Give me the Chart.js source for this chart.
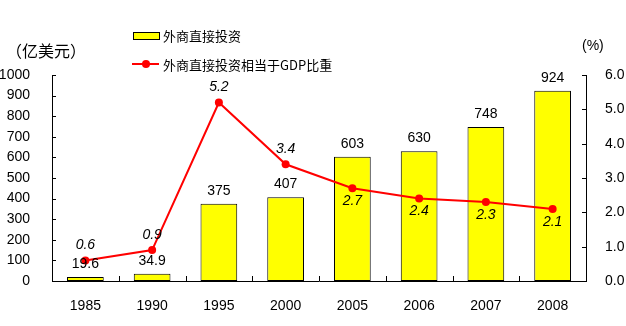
<!DOCTYPE html>
<html>
<head>
<meta charset="utf-8">
<script src="https://cdn.jsdelivr.net/npm/chart.js@4"></script>
<style>
  html, body { margin: 0; padding: 0; background: #fff; }
  #wrap { width: 626px; height: 326px; }
</style>
</head>
<body>
<div id="wrap"><canvas id="fdiChart" width="626" height="326"></canvas></div>
<script>
// --- DATA ---
const years = ['1985', '1990', '1995', '2000', '2005', '2006', '2007', '2008'];
const fdiValues = [19.6, 34.9, 375, 407, 603, 630, 748, 924];      // 亿美元
const gdpShare = [0.6, 0.9, 5.2, 3.4, 2.7, 2.4, 2.3, 2.1];          // %
const shareLabelBelow = [false, false, false, false, true, true, true, true];

const barName = '外商直接投资';
const lineName = '外商直接投资相当于GDP比重';

const NUM_FONT = '"Liberation Sans", Arial, sans-serif';
const CJK_FONT = '"Noto Sans CJK SC", "Noto Sans", sans-serif';

// Inward ticks, value labels, legend and unit captions
const decorations = {
    id: 'decorations',
    afterDraw(chart) {
        const ctx = chart.ctx;
        const area = chart.chartArea;
        const x = chart.scales.x, y = chart.scales.y, y1 = chart.scales.y1;
        ctx.save();
        ctx.strokeStyle = '#000';
        ctx.lineWidth = 1;

        // ticks pointing into the plot
        ctx.beginPath();
        y.ticks.forEach(t => {
            const py = Math.round(y.getPixelForValue(t.value)) + 0.5;
            ctx.moveTo(area.left, py); ctx.lineTo(area.left + 4, py);
        });
        y1.ticks.forEach(t => {
            const py = Math.round(y1.getPixelForValue(t.value)) + 0.5;
            ctx.moveTo(area.right - 4, py); ctx.lineTo(area.right, py);
        });
        const step = (area.right - area.left) / years.length;
        for (let i = 1; i < years.length; i++) {
            const px = Math.round(area.left + step * i) + 0.5;
            ctx.moveTo(px, area.bottom - 5); ctx.lineTo(px, area.bottom);
        }
        ctx.stroke();

        // bar value labels
        ctx.fillStyle = '#000';
        ctx.textAlign = 'center';
        ctx.textBaseline = 'bottom';
        ctx.font = '14px ' + NUM_FONT;
        const barMeta = chart.getDatasetMeta(0);
        barMeta.data.forEach((bar, i) => {
            ctx.fillText(String(fdiValues[i]), bar.x, bar.y - 6);
        });

        // line value labels
        ctx.font = 'italic 14px ' + NUM_FONT;
        ctx.textBaseline = 'middle';
        const lineMeta = chart.getDatasetMeta(1);
        lineMeta.data.forEach((pt, i) => {
            const dy = shareLabelBelow[i] ? 13 : -15;
            ctx.fillText(gdpShare[i].toFixed(1), pt.x, pt.y + dy);
        });

        // unit captions
        ctx.textAlign = 'left';
        ctx.font = '16px ' + CJK_FONT;
        ctx.fillText('（亿美元）', 6, 51);
        ctx.font = '14px ' + NUM_FONT;
        ctx.fillText('(%)', 582, 46);

        // legend
        ctx.fillStyle = '#FFFF00';
        ctx.fillRect(133.5, 32.5, 26, 7);
        ctx.strokeRect(133.5, 32.5, 26, 7);
        ctx.strokeStyle = '#FF0000';
        ctx.lineWidth = 2;
        ctx.beginPath();
        ctx.moveTo(132, 64); ctx.lineTo(159, 64);
        ctx.stroke();
        ctx.fillStyle = '#FF0000';
        ctx.beginPath();
        ctx.arc(146, 64, 4, 0, Math.PI * 2);
        ctx.fill();
        ctx.fillStyle = '#000';
        ctx.font = '13px ' + CJK_FONT;
        ctx.fillText(barName, 163, 36);
        ctx.fillText(lineName, 163, 65);
        ctx.restore();
    }
};

new Chart(document.getElementById('fdiChart'), {
    data: {
        labels: years,
        datasets: [{
            type: 'bar',
            label: barName,
            data: fdiValues,
            yAxisID: 'y',
            backgroundColor: '#FFFF00',
            borderColor: '#000',
            borderWidth: 1,
            borderSkipped: false,
            categoryPercentage: 1,
            barPercentage: 0.55,
            order: 2
        }, {
            type: 'line',
            label: lineName,
            data: gdpShare,
            yAxisID: 'y1',
            borderColor: '#FF0000',
            backgroundColor: '#FF0000',
            borderWidth: 2,
            pointRadius: 4,
            pointBackgroundColor: '#FF0000',
            pointBorderWidth: 0,
            tension: 0,
            order: 1
        }]
    },
    options: {
        responsive: false,
        animation: false,
        layout: { padding: { top: 75, left: 0, right: 0, bottom: 0 } },
        plugins: { legend: { display: false }, tooltip: { enabled: false } },
        scales: {
            x: {
                grid: { display: false },
                border: { display: true, color: '#000', width: 1 },
                ticks: { color: '#000', font: { family: NUM_FONT, size: 14 }, padding: 9, maxRotation: 0 },
                afterFit: s => { s.height = 45; }
            },
            y: {
                position: 'left',
                min: 0, max: 1000,
                grid: { display: false },
                border: { display: true, color: '#000', width: 1 },
                ticks: {
                    stepSize: 100, color: '#000', font: { family: NUM_FONT, size: 14 }, padding: 14,
                    callback: v => String(v)
                },
                afterFit: s => { s.width = 52; }
            },
            y1: {
                position: 'right',
                min: 0, max: 6,
                grid: { display: false },
                border: { display: true, color: '#000', width: 1 },
                ticks: {
                    stepSize: 1, color: '#000', font: { family: NUM_FONT, size: 14 }, padding: 11,
                    callback: v => Number(v).toFixed(1)
                },
                afterFit: s => { s.width = 40; }
            }
        }
    },
    plugins: [decorations]
});
</script>
</body>
</html>
